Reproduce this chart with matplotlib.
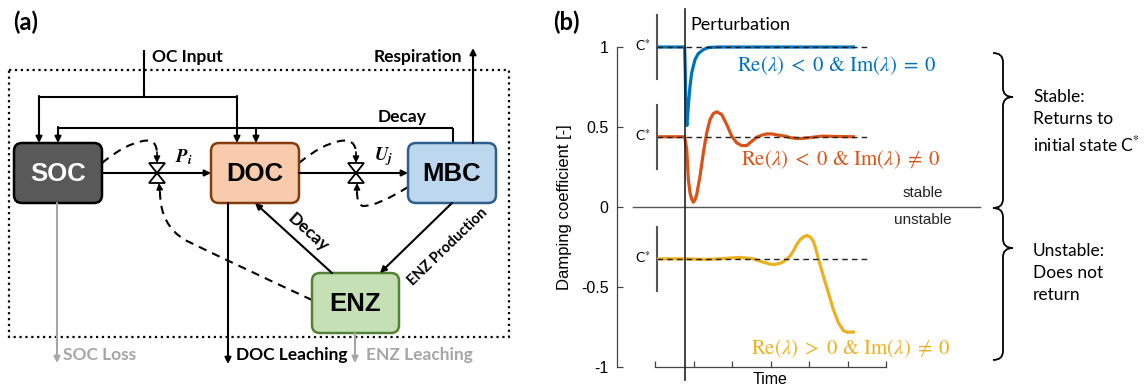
import numpy as np
import matplotlib.pyplot as plt
from matplotlib.patches import FancyBboxPatch, Rectangle, Polygon, PathPatch
from matplotlib.path import Path

plt.rcParams['mathtext.fontset'] = 'stix'

# ---- panel (b) data: time axis in tick units, values in damping coefficient units
t_pert = 0.77
t_blue = [0.05, 0.77, 0.785, 0.80, 0.815, 0.83, 0.865, 0.909, 0.953, 1.039, 1.125, 1.255,
          1.385, 1.644, 5.195]
y_blue = [1.0, 1.0, 0.85, 0.65, 0.53, 0.51, 0.63, 0.755, 0.839, 0.922, 0.959, 0.984,
          0.997, 1.0, 1.0]

t_orange = [0.05, 0.77, 0.823, 0.865, 0.909, 0.953, 0.995, 1.039, 1.083, 1.169, 1.255,
            1.343, 1.429, 1.514, 1.603, 1.732, 1.862, 1.992, 2.122, 2.252, 2.382, 2.512,
            2.642, 2.771, 2.901, 3.031, 3.203, 3.377, 3.506, 3.68, 3.844, 4.026, 4.338,
            4.675, 5.195]
y_orange = [0.439, 0.439, 0.36, 0.172, 0.089, 0.05, 0.03, 0.045, 0.078, 0.193, 0.339,
            0.464, 0.547, 0.584, 0.595, 0.578, 0.516, 0.443, 0.401, 0.384, 0.384, 0.411,
            0.436, 0.449, 0.457, 0.457, 0.449, 0.443, 0.434, 0.428, 0.429, 0.434, 0.443,
            0.441, 0.439]

t_yellow = [0.05, 0.77, 1.34, 1.775, 2.208, 2.554, 2.814, 2.987, 3.117, 3.247, 3.377,
            3.506, 3.593, 3.68, 3.766, 3.853, 3.94, 4.026, 4.113, 4.18, 4.243, 4.372,
            4.502, 4.632, 4.762, 4.892, 4.98, 5.195]
y_yellow = [-0.324, -0.324, -0.328, -0.322, -0.315, -0.324, -0.345, -0.357, -0.359,
            -0.352, -0.335, -0.307, -0.275, -0.234, -0.205, -0.187, -0.178, -0.186,
            -0.215, -0.265, -0.324, -0.432, -0.536, -0.641, -0.724, -0.772, -0.782, -0.782]

c_star = [1.0, 0.439, -0.324]
colors = ['#0072BD', '#D95319', '#EDB120']
labels = [r'$\mathrm{Re}(\lambda)\;<\;0$ & $\mathrm{Im}(\lambda)\;=\;0$',
          r'$\mathrm{Re}(\lambda)\;<\;0$ & $\mathrm{Im}(\lambda)\;\neq\;0$',
          r'$\mathrm{Re}(\lambda)\;>\;0$ & $\mathrm{Im}(\lambda)\;\neq\;0$']
label_pos = [(2.14, 0.884), (2.24, 0.297), (2.50, -0.884)]
yticks = [-1, -0.5, 0, 0.5, 1]
yticklabels = ['-1', '-0.5', '0', '0.5', '1']

# ---- panel (a) layout (pixel coords)
boxes = {
    'SOC': (14, 143, 88, 60, '#595959', '#000000', 'white'),
    'DOC': (211, 143, 88, 60, '#F8CBAD', '#843C0C', 'black'),
    'MBC': (408, 143, 88, 60, '#BDD7EE', '#2E5F8A', 'black'),
    'ENZ': (312, 273, 87, 60, '#C5E0B4', '#548235', 'black'),
}

fig = plt.figure(figsize=(11.48, 3.92), dpi=100)
ax0 = fig.add_axes([0, 0, 1, 1])
ax0.set_xlim(0, 1148)
ax0.set_ylim(392, 0)
ax0.axis('off')

diag = dict(family='Lato', weight='bold')
gray = '#A6A6A6'


def arrow(x0, y0, x1, y1, color='black', lw=1.5):
    ax0.annotate('', xy=(x1, y1), xytext=(x0, y0),
                 arrowprops=dict(arrowstyle='-|>', lw=lw, color=color,
                                 mutation_scale=9, shrinkA=0, shrinkB=0))


def line(xs, ys, color='black', lw=1.5):
    ax0.plot(xs, ys, color=color, lw=lw, solid_capstyle='butt')


def dashed(verts, codes):
    p = PathPatch(Path(verts, codes), fill=False, lw=1.5, ls=(0, (4, 3)), ec='black')
    ax0.add_patch(p)


def valve(xc, yc):
    ax0.add_patch(Polygon([[xc - 8, yc - 10], [xc + 8, yc - 10], [xc - 8, yc + 10],
                           [xc + 8, yc + 10]], closed=True, fc='white', ec='black', lw=1.3, zorder=4))


ax0.text(13, 22, '(a)', fontsize=17, va='center', **diag)
ax0.text(553, 22, '(b)', fontsize=17, va='center', **diag)

ax0.add_patch(Rectangle((9, 70), 500, 267, fill=False, ls=':', lw=1.6, ec='black'))

for name, (x, y, w, h, fc, ec, tc) in boxes.items():
    ax0.add_patch(FancyBboxPatch((x, y), w, h, boxstyle='round,pad=0,rounding_size=8',
                                 fc=fc, ec=ec, lw=1.8, zorder=3))
    ax0.text(x + w / 2, y + h / 2 + 1, name, color=tc, fontsize=18.5, ha='center', va='center',
             family='Liberation Sans', weight='bold', zorder=5)

# OC input
line([144, 144], [50, 97])
line([39, 237], [97, 97])
arrow(39, 96, 39, 143)
arrow(237, 96, 237, 143)
ax0.text(152, 57, 'OC Input', fontsize=12.5, va='center', **diag)

# decay from MBC
line([453, 453], [143, 128])
line([58, 453], [128, 128])
arrow(58, 127, 58, 143)
arrow(256, 128, 256, 143)
ax0.text(378, 117, 'Decay', fontsize=12.5, va='center', **diag)

# respiration
arrow(473, 143, 473, 48)
ax0.text(462, 57, 'Respiration', fontsize=12.5, va='center', ha='right', **diag)

# fluxes with valves
arrow(102, 173, 211, 173)
arrow(299, 173, 408, 173)
valve(157, 173)
valve(356, 173)
ax0.text(175, 157, r'$\mathbfit{P}_{\mathbfit{i}}$', fontsize=13.5, va='center')
ax0.text(374, 157, r'$\mathbfit{U}_{\mathbfit{j}}$', fontsize=13.5, va='center')

M, C3, C4, L = Path.MOVETO, Path.CURVE3, Path.CURVE4, Path.LINETO
dashed([(102, 163), (125, 144), (143, 141), (157, 138), (157, 154)], [M, C3, C3, C3, C3])
arrow(157, 152, 157, 163, lw=1.2)
dashed([(299, 163), (322, 144), (340, 141), (356, 138), (356, 154)], [M, C3, C3, C3, C3])
arrow(356, 152, 356, 163, lw=1.2)
dashed([(408, 187), (378, 206), (363, 206), (357, 205), (357, 192)], [M, C3, C3, C3, C3])
arrow(357, 193, 357, 183, lw=1.2)
dashed([(312, 300), (230, 262), (185, 240), (160, 225), (160, 192)], [M, C3, C3, C3, C3])
arrow(160, 193, 159, 183, lw=1.2)

# ENZ links
arrow(332, 273, 255, 203)
ax0.text(308, 232, 'Decay', fontsize=12.5, rotation=-42, ha='center', va='center', **diag)
arrow(452, 203, 380, 273)
ax0.text(448, 247, 'ENZ Production', fontsize=10.5, rotation=44, ha='center', va='center', **diag)

# leaching / losses
arrow(228, 203, 228, 364)
ax0.text(236, 355, 'DOC Leaching', fontsize=12.5, va='center', **diag)
arrow(57, 203, 57, 363, color=gray)
ax0.text(63, 355, 'SOC Loss', fontsize=12.5, va='center', color=gray, **diag)
arrow(355, 333, 355, 363, color=gray)
ax0.text(366, 355, 'ENZ Leaching', fontsize=12.5, va='center', color=gray, **diag)


# braces and stability text
def brace(xe, xm, xt, y0, yt, y1, r=9):
    verts = [(xe, y0), (xm, y0), (xm, y0 + r), (xm, yt - r), (xm, yt), (xt, yt),
             (xm, yt), (xm, yt + r), (xm, y1 - r), (xm, y1), (xe, y1)]
    codes = [M, C3, C3, L, C3, C3, C3, C3, L, C3, C3]
    ax0.add_patch(PathPatch(Path(verts, codes), fill=False, lw=1.3, ec='black'))


brace(993, 1003, 1013, 53, 97, 208)
brace(993, 1003, 1013, 208, 248, 360)
right = dict(family='Lato', fontsize=12.5, linespacing=1.45, va='center')
ax0.text(1033, 122, 'Stable:\nReturns to\ninitial state C$^{*}$', **right)
ax0.text(1033, 273, 'Unstable:\nDoes not\nreturn', **right)

# ---- panel (b) chart
ax = fig.add_axes([617 / 1148, 25 / 392, 363 / 1148, 359.5 / 392])
ax.patch.set_alpha(0)
ax.set_xlim(-0.987, 8.44)
ax.set_ylim(-1.0, 1.247)
for s in ['top', 'right']:
    ax.spines[s].set_visible(False)
ax.spines['left'].set_bounds(-1, 1)
ax.spines['bottom'].set_bounds(0, 6)
for s in ['left', 'bottom']:
    ax.spines[s].set_color('#444444')
    ax.spines[s].set_linewidth(0.9)
ax.set_yticks(yticks)
ax.set_yticklabels(yticklabels, family='Liberation Sans', fontsize=11.5)
ax.set_xticks(range(7))
ax.set_xticklabels([])
ax.tick_params(direction='in', length=4, color='#444444', width=0.9, pad=6)
ax.set_ylabel('Damping coefficient [-]', family='Liberation Sans', fontsize=12)
ax.yaxis.set_label_coords(-2.16, 0, transform=ax.transData)
ax.set_xlabel('Time', family='Liberation Sans', fontsize=11.5)
ax.xaxis.set_label_coords(3, -1.03, transform=ax.transData)
ax.xaxis.label.set_va('top')

ax.plot([-0.57, 8.44], [0, 0], color='#555555', lw=1, clip_on=False)
ax.text(6.96, 0.09, 'stable', family='Liberation Sans', fontsize=11, ha='center', va='center', color='#222222')
ax.text(6.96, -0.08, 'unstable', family='Liberation Sans', fontsize=11, ha='center', va='center', color='#222222')

ax.plot([t_pert, t_pert], [1.24, -1.08], color='#222222', lw=1.2, clip_on=False, zorder=5)
ax.text(t_pert + 0.15, 1.14, 'Perturbation', family='Lato', fontsize=13, va='center')

series = [(t_blue, y_blue), (t_orange, y_orange), (t_yellow, y_yellow)]
for (tt, yy), cs, col, lab, (lx, ly) in zip(series, c_star, colors, labels, label_pos):
    ax.plot([0.05, 0.05], [cs - 0.2, cs + 0.2], color='#555555', lw=1.5)
    ax.text(-0.1, cs + 0.01, 'C$^{*}$', family='Lato', fontsize=10, ha='right', va='center')
    ax.plot(tt, yy, color=col, lw=2.3, zorder=3, solid_capstyle='butt', solid_joinstyle='round')
    ax.plot([0.05, 5.58], [cs, cs], color='#222222', lw=1, ls=(0, (4, 3)), zorder=4)
    ax.text(lx, ly, lab, color=col, fontsize=15, va='center', family='STIXGeneral')

fig.savefig('out.png', dpi=100)
